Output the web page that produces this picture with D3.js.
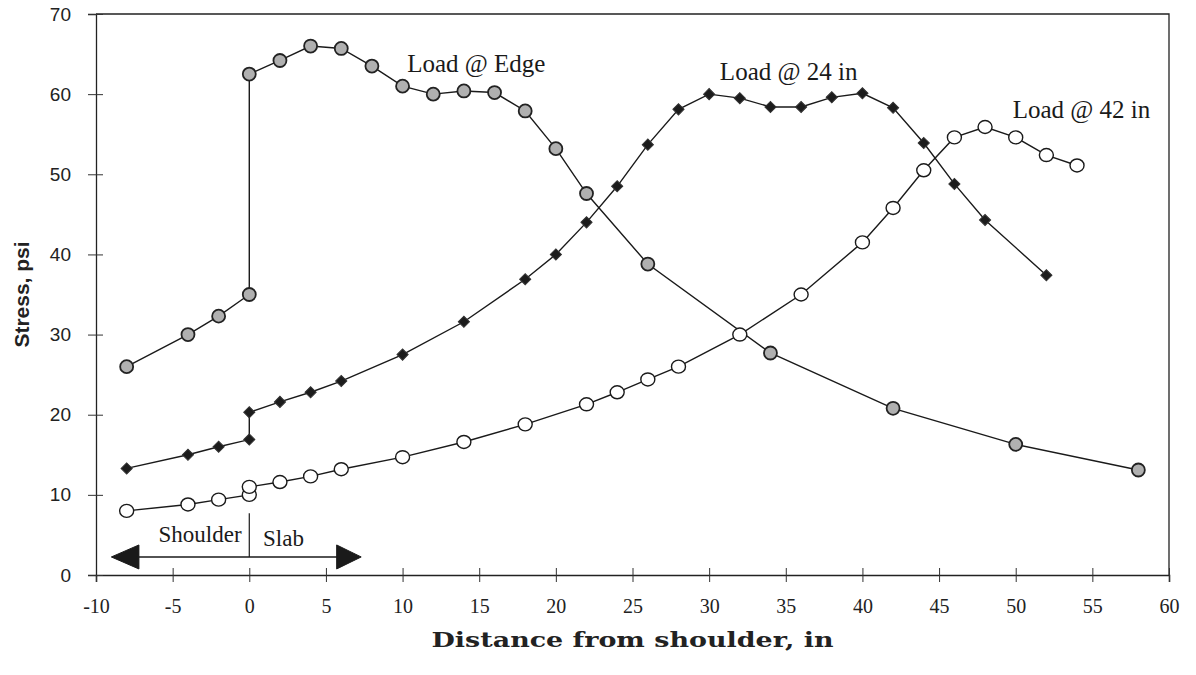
<!DOCTYPE html>
<html>
<head>
<meta charset="utf-8">
<script src="https://cdn.jsdelivr.net/npm/d3@7"></script>
<style>
  body { margin: 0; background: #fff; }
  svg { display: block; }
</style>
</head>
<body>
<div id="chart"></div>
<script>
// distance from shoulder (in) and stress (psi)
const edgeX = [-8, -4, -2, 0, 0, 2, 4, 6, 8, 10, 12, 14, 16, 18, 20, 22, 26, 34, 42, 50, 58];
const edgeY = [26, 30, 32.3, 35, 62.5, 64.2, 66, 65.7, 63.5, 61, 60, 60.4, 60.2, 57.9, 53.2, 47.6, 38.8, 27.7, 20.8, 16.3, 13.1];

const in24X = [-8, -4, -2, 0, 0, 2, 4, 6, 10, 14, 18, 20, 22, 24, 26, 28, 30, 32, 34, 36, 38, 40, 42, 44, 46, 48, 52];
const in24Y = [13.3, 15, 16, 16.9, 20.3, 21.6, 22.8, 24.2, 27.5, 31.6, 36.9, 40, 44, 48.5, 53.7, 58.1, 60, 59.5, 58.4, 58.4, 59.6, 60.1, 58.3, 53.9, 48.8, 44.3, 37.4];

const in42X = [-8, -4, -2, 0, 0, 2, 4, 6, 10, 14, 18, 22, 24, 26, 28, 32, 36, 40, 42, 44, 46, 48, 50, 52, 54];
const in42Y = [8, 8.8, 9.4, 10, 11, 11.6, 12.3, 13.2, 14.7, 16.6, 18.8, 21.3, 22.8, 24.4, 26, 30, 35, 41.5, 45.8, 50.5, 54.6, 55.9, 54.6, 52.4, 51.1];

const xTicks = [-10, -5, 0, 5, 10, 15, 20, 25, 30, 35, 40, 45, 50, 55, 60];
const yTicks = [0, 10, 20, 30, 40, 50, 60, 70];

const W = 1196, H = 675;
const margin = { top: 14, right: 27, bottom: 100, left: 96 };

const svg = d3.select('#chart').append('svg')
    .attr('width', W)
    .attr('height', H);

const x = d3.scaleLinear().domain([-10, 60]).range([margin.left, W - margin.right]);
const y = d3.scaleLinear().domain([0, 70]).range([H - margin.bottom, margin.top]);

const serif = '"Liberation Serif", "Times New Roman", serif';
const sans = '"Liberation Sans", Arial, sans-serif';

// frame: top and right edges
svg.append('path')
    .attr('d', `M${x(-10)},${y(70)}H${x(60)}V${y(0)}`)
    .attr('fill', 'none')
    .attr('stroke', '#222')
    .attr('stroke-width', 1.3);

// x axis, ticks crossing the line
const xAxis = svg.append('g')
    .attr('transform', `translate(0,${y(0)})`)
    .call(d3.axisBottom(x).tickValues(xTicks).tickSize(7).tickPadding(17).tickFormat(d3.format('d')));
xAxis.select('.domain').attr('stroke', '#222').attr('stroke-width', 1.6);
xAxis.selectAll('.tick line').attr('y1', -7).attr('stroke', '#333');
xAxis.selectAll('.tick text')
    .attr('font-family', serif)
    .attr('font-size', 20)
    .attr('fill', '#222')
    .text(d => d < 0 ? '-' + Math.abs(d) : d);

// y axis
const yAxis = svg.append('g')
    .attr('transform', `translate(${x(-10)},0)`)
    .call(d3.axisLeft(y).tickValues(yTicks).tickSize(8).tickPadding(17));
yAxis.select('.domain').attr('stroke', '#222').attr('stroke-width', 1.3);
yAxis.selectAll('.tick line').attr('x1', 7).attr('stroke', '#333');
yAxis.selectAll('.tick text')
    .attr('font-family', sans)
    .attr('font-size', 19)
    .attr('fill', '#222');

// axis titles
svg.append('text')
    .attr('x', (x(-10) + x(60)) / 2)
    .attr('y', 647)
    .attr('text-anchor', 'middle')
    .attr('font-family', '"DejaVu Serif", serif')
    .attr('font-weight', 'bold')
    .attr('font-size', 21)
    .attr('textLength', 402)
    .attr('lengthAdjust', 'spacingAndGlyphs')
    .attr('fill', '#222')
    .text('Distance from shoulder, in');

svg.append('text')
    .attr('transform', `translate(29,${y(35)}) rotate(-90)`)
    .attr('text-anchor', 'middle')
    .attr('font-family', sans)
    .attr('font-weight', 'bold')
    .attr('font-size', 21)
    .attr('fill', '#222')
    .text('Stress, psi');

const line = d3.line().x(d => x(d[0])).y(d => y(d[1]));

function drawSeries(xs, ys) {
    const pts = xs.map((v, i) => [v, ys[i]]);
    svg.append('path')
        .datum(pts)
        .attr('d', line)
        .attr('fill', 'none')
        .attr('stroke', '#1a1a1a')
        .attr('stroke-width', 1.4);
    return pts;
}

const edgePts = drawSeries(edgeX, edgeY);
const in24Pts = drawSeries(in24X, in24Y);
const in42Pts = drawSeries(in42X, in42Y);

svg.append('g').selectAll('circle')
    .data(edgePts)
    .join('circle')
    .attr('cx', d => x(d[0]))
    .attr('cy', d => y(d[1]))
    .attr('r', 6.5)
    .attr('fill', '#b0b0b0')
    .attr('stroke', '#222')
    .attr('stroke-width', 1.8);

svg.append('g').selectAll('path')
    .data(in24Pts)
    .join('path')
    .attr('d', d3.symbol(d3.symbolSquare, 62))
    .attr('transform', d => `translate(${x(d[0])},${y(d[1])}) rotate(45)`)
    .attr('fill', '#1c1c1c')
    .attr('stroke', '#333')
    .attr('stroke-width', 1);

svg.append('g').selectAll('ellipse')
    .data(in42Pts)
    .join('ellipse')
    .attr('cx', d => x(d[0]))
    .attr('cy', d => y(d[1]))
    .attr('rx', 7)
    .attr('ry', 6.5)
    .attr('fill', '#fff')
    .attr('stroke', '#1a1a1a')
    .attr('stroke-width', 1.4);

// series labels
const labels = [
    { text: 'Load @ Edge', at: [10.3, 62.8] },
    { text: 'Load @ 24 in', at: [30.7, 61.8] },
    { text: 'Load @ 42 in', at: [49.8, 57] }
];
svg.append('g').selectAll('text')
    .data(labels)
    .join('text')
    .attr('x', d => x(d.at[0]))
    .attr('y', d => y(d.at[1]))
    .attr('font-family', serif)
    .attr('font-size', 25)
    .attr('fill', '#1a1a1a')
    .text(d => d.text);

// shoulder / slab double arrow
const arrowY = y(2.25);
const ann = svg.append('g').attr('stroke', '#1a1a1a').attr('fill', '#1a1a1a');
ann.append('line')
    .attr('x1', x(-7.2)).attr('x2', x(6.5))
    .attr('y1', arrowY).attr('y2', arrowY)
    .attr('stroke-width', 1.6);
ann.append('line')
    .attr('x1', x(0)).attr('x2', x(0))
    .attr('y1', y(7.7)).attr('y2', arrowY)
    .attr('stroke-width', 1.2);
ann.append('path')
    .attr('d', `M${x(-9)},${arrowY}L${x(-7.2)},${arrowY - 12}V${arrowY + 12}Z`);
ann.append('path')
    .attr('d', `M${x(7.3)},${arrowY}L${x(5.7)},${arrowY - 12}V${arrowY + 12}Z`);

svg.append('text')
    .attr('x', x(-0.5)).attr('y', 542)
    .attr('text-anchor', 'end')
    .attr('font-family', serif)
    .attr('font-size', 23)
    .attr('fill', '#1a1a1a')
    .text('Shoulder');
svg.append('text')
    .attr('x', x(0.9)).attr('y', 546)
    .attr('font-family', serif)
    .attr('font-size', 23)
    .attr('fill', '#1a1a1a')
    .text('Slab');
</script>
</body>
</html>
